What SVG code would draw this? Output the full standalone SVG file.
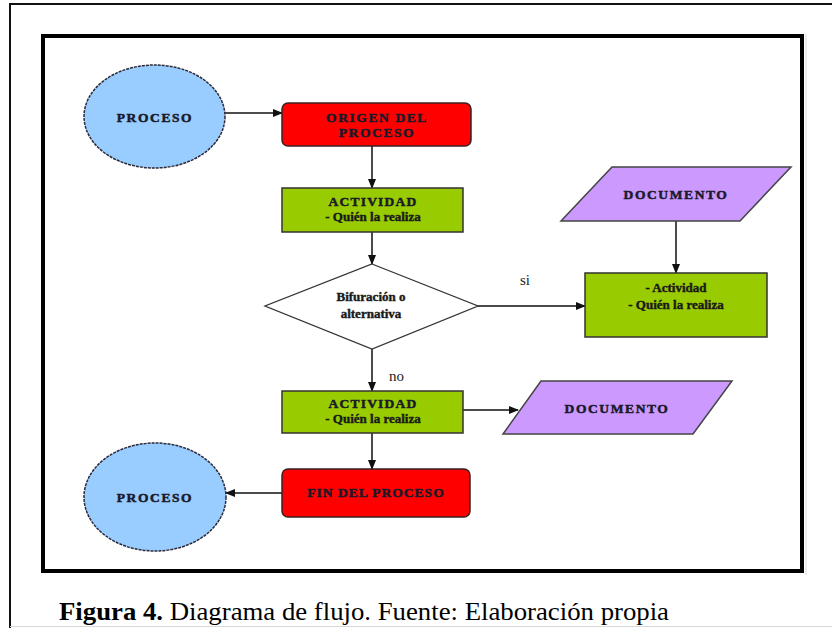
<svg xmlns="http://www.w3.org/2000/svg" width="832" height="628" viewBox="0 0 832 628">
<defs>
<marker id="ah" markerWidth="10" markerHeight="8" refX="9" refY="4" orient="auto" markerUnits="userSpaceOnUse">
<path d="M0,0 L10,4 L0,8 Z" fill="#111"/>
</marker>
<style>
.ell{fill:#99ccff;stroke:#2a2a3a;stroke-width:1.5;stroke-dasharray:3 1}
.red{fill:#ff0000;stroke:#3a2020;stroke-width:1.5}
.grn{fill:#99cc00;stroke:#333;stroke-width:1.5}
.pur{fill:#cc99ff;stroke:#444;stroke-width:1.5}
.dia{fill:#ffffff;stroke:#333;stroke-width:1.3}
.cap{font-family:"Liberation Serif",serif;font-weight:bold;font-size:13.5px;letter-spacing:1.6px;fill:#1a1a2a;stroke:#1a1a2a;stroke-width:0.5;text-anchor:middle}
.low{font-family:"Liberation Serif",serif;font-weight:bold;font-size:13px;fill:#1a1a1a;stroke:#1a1a1a;stroke-width:0.4;text-anchor:middle}
.lbl{font-family:"Liberation Serif",serif;font-size:15px;fill:#222}
.con{stroke:#111;stroke-width:1.5;fill:none;marker-end:url(#ah)}
.caption{font-family:"Liberation Serif","Times New Roman",serif;font-size:26px;fill:#000}
</style>
</defs>
<rect width="832" height="628" fill="#ffffff"/>
<path d="M832,4 H10 V628" fill="none" stroke="#111" stroke-width="2"/>
<line x1="10" y1="626.5" x2="832" y2="626.5" stroke="#d8d8d8" stroke-width="1"/>
<rect x="43" y="36" width="759" height="535" fill="none" stroke="#000" stroke-width="4"/>
<line x1="806" y1="34" x2="806" y2="575" stroke="#e6e6e6" stroke-width="1.5"/>

<g id="connectors">
<line class="con" x1="225" y1="113" x2="282" y2="113"/>
<line class="con" x1="372" y1="146" x2="372" y2="188"/>
<line class="con" x1="372" y1="232" x2="372" y2="264"/>
<line class="con" x1="478" y1="306" x2="585" y2="306"/>
<line class="con" x1="676" y1="221" x2="676" y2="273"/>
<line class="con" x1="372" y1="349" x2="372" y2="391"/>
<line class="con" x1="463" y1="410" x2="518" y2="410"/>
<line class="con" x1="372" y1="433" x2="372" y2="469"/>
<line class="con" x1="282" y1="493" x2="226" y2="493"/>
<text class="lbl" x="520" y="285">si</text>
<text class="lbl" x="389" y="381">no</text>
</g>

<g id="proceso-inicio">
<ellipse class="ell" cx="154.5" cy="116.5" rx="70.5" ry="51.5"/>
<text class="cap" x="155" y="122">PROCESO</text>
</g>
<g id="origen">
<rect class="red" x="282" y="103" width="189" height="43" rx="6"/>
<text class="cap" x="377" y="122">ORIGEN DEL</text>
<text class="cap" x="377" y="137">PROCESO</text>
</g>
<g id="actividad1">
<rect class="grn" x="282" y="188" width="181" height="44"/>
<text class="cap" x="373" y="206" style="letter-spacing:1.2px">ACTIVIDAD</text>
<text class="low" x="373" y="221">- Quién la realiza</text>
</g>
<g id="bifurcacion">
<polygon class="dia" points="372,264 478,306 372,349 265,306"/>
<text class="low" x="371" y="301">Bifuración o</text>
<text class="low" x="371" y="318">alternativa</text>
</g>
<g id="documento1">
<polygon class="pur" points="612,167 791,167 740,221 561,221"/>
<text class="cap" x="676" y="199">DOCUMENTO</text>
</g>
<g id="actividad-si">
<rect class="grn" x="585" y="273" width="182" height="64"/>
<text class="low" x="676" y="292">- Actividad</text>
<text class="low" x="676" y="309">- Quién la realiza</text>
</g>
<g id="actividad2">
<rect class="grn" x="282" y="391" width="181" height="42"/>
<text class="cap" x="373" y="408" style="letter-spacing:1.2px">ACTIVIDAD</text>
<text class="low" x="373" y="423">- Quién la realiza</text>
</g>
<g id="documento2">
<polygon class="pur" points="541,381 732,381 693,434 503,434"/>
<text class="cap" x="617" y="413">DOCUMENTO</text>
</g>
<g id="fin">
<rect class="red" x="282" y="469" width="188" height="48" rx="6"/>
<text class="cap" x="376" y="497" style="letter-spacing:1px">FIN DEL PROCESO</text>
</g>
<g id="proceso-fin">
<ellipse class="ell" cx="155" cy="497" rx="71" ry="54"/>
<text class="cap" x="155" y="502">PROCESO</text>
</g>

<text class="caption" x="59" y="620" textLength="610" lengthAdjust="spacingAndGlyphs"><tspan font-weight="bold">Figura 4.</tspan> Diagrama de flujo. Fuente: Elaboración propia</text>
</svg>
